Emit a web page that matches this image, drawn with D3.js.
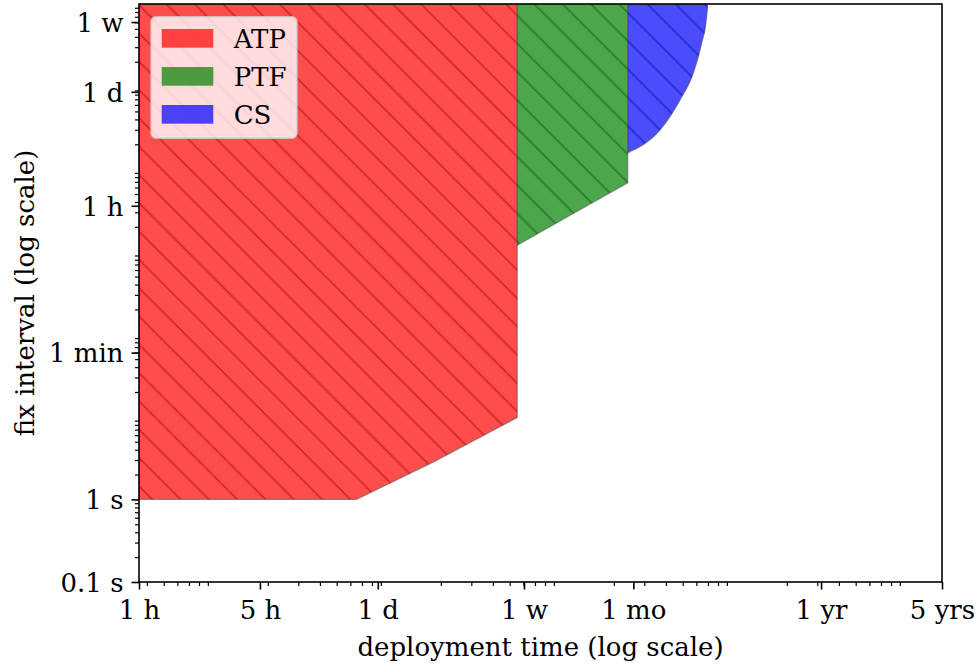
<!DOCTYPE html>
<html>
<head>
<meta charset="utf-8">
<script src="https://cdn.jsdelivr.net/npm/d3@7"></script>
<style>
  body { margin: 0; background: #fff; }
  svg text { font-family: "DejaVu Serif", serif; fill: #000; }
</style>
</head>
<body>
<div id="chart"></div>
<script>
// all values in seconds: deployment time (x) and lowest fix interval (y)
const atpTime = [3600, 65000, 180900, 553000];
const atpFix = [1, 1, 2.83, 9.8];
const ptfTime = [553000, 1166000, 2406000];
const ptfFix = [1199, 2904, 6823];
const csTime = [2406000, 3697000, 4826000, 5758000, 6439000, 6882000, 6974000, 7000000];
const csFix = [15760, 29700, 68600, 144500, 333900, 701500, 972000, 1200000];
const bandTop = 2e6; // bands run off the top of the chart

const seriesNames = ['ATP', 'PTF', 'CS'];
const seriesColors = ['#ff0000', '#008000', '#0000ff'];

const xTickValues = [3600, 18000, 86400, 604800, 2592000, 31536000, 157680000];
const xTickLabels = ['1 h', '5 h', '1 d', '1 w', '1 mo', '1 yr', '5 yrs'];
const yTickValues = [0.1, 1, 60, 3600, 86400, 604800];
const yTickLabels = ['0.1 s', '1 s', '1 min', '1 h', '1 d', '1 w'];

const W = 978, H = 669;
const margin = { top: 4, right: 36, bottom: 87, left: 139 };
const width = W - margin.left - margin.right;
const height = H - margin.top - margin.bottom;
const fontSize = 26;

const svg = d3.select('#chart').append('svg')
  .attr('width', W)
  .attr('height', H);

const x = d3.scaleLog().domain([3600, 157680000]).range([0, width]);
const y = d3.scaleLog().domain([0.1, 1e6]).range([height, 0]);

// log minor ticks at 2..9 x 10^k
function minorTicks(scale) {
  const [a, b] = scale.domain();
  const out = [];
  for (let k = Math.floor(Math.log10(a)); k <= Math.ceil(Math.log10(b)); k++) {
    for (let m = 2; m <= 9; m++) {
      const v = m * Math.pow(10, k);
      if (v >= a && v <= b) out.push(v);
    }
  }
  return out;
}

// hatch patterns ("\\" lines), darker shade of each band colour
const defs = svg.append('defs');
const hs = 28.3;
seriesNames.forEach((name, i) => {
  const p = defs.append('pattern')
    .attr('id', 'hatch-' + i)
    .attr('patternUnits', 'userSpaceOnUse')
    .attr('x', 0).attr('y', 1)
    .attr('width', hs).attr('height', hs);
  p.append('path')
    .attr('d', `M0,0L${hs},${hs}M${hs - 2},-2L${hs + 2},2M-2,${hs - 2}L2,${hs + 2}`)
    .attr('stroke', d3.color(seriesColors[i]).darker(1.6))
    .attr('stroke-opacity', 0.45)
    .attr('stroke-width', 1.7);
});

defs.append('clipPath').attr('id', 'plot-clip')
  .append('rect').attr('width', width).attr('height', height);

const g = svg.append('g')
  .attr('transform', `translate(${margin.left},${margin.top})`);

const bands = [
  atpTime.map((t, i) => ({ t, f: atpFix[i] })),
  ptfTime.map((t, i) => ({ t, f: ptfFix[i] })),
  csTime.map((t, i) => ({ t, f: csFix[i] }))
];

const area = d3.area()
  .x(d => x(d.t))
  .y0(() => y(bandTop))
  .y1(d => y(d.f));

const plot = g.append('g').attr('clip-path', 'url(#plot-clip)');

bands.forEach((data, i) => {
  const a = area.curve(i === 2 ? d3.curveMonotoneX : d3.curveLinear);
  plot.append('path')
    .datum(data)
    .attr('d', a)
    .attr('fill', seriesColors[i])
    .attr('fill-opacity', 0.7)
    .attr('stroke', '#555')
    .attr('stroke-opacity', 0.55)
    .attr('stroke-width', 1.2);
  plot.append('path')
    .datum(data)
    .attr('d', a)
    .attr('fill', `url(#hatch-${i})`);
});

// axes
const xAxis = g.append('g')
  .attr('transform', `translate(0,${height})`)
  .call(d3.axisBottom(x).tickValues(xTickValues)
    .tickFormat((d, i) => xTickLabels[i]).tickSize(7.5).tickPadding(8));
const xMinor = g.append('g')
  .attr('transform', `translate(0,${height})`)
  .call(d3.axisBottom(x).tickValues(minorTicks(x)).tickFormat('').tickSize(4));

const yAxis = g.append('g')
  .call(d3.axisLeft(y).tickValues(yTickValues)
    .tickFormat((d, i) => yTickLabels[i]).tickSize(7.5).tickPadding(8));
const yMinor = g.append('g')
  .call(d3.axisLeft(y).tickValues(minorTicks(y)).tickFormat('').tickSize(4));

[xAxis, xMinor, yAxis, yMinor].forEach(ax => {
  ax.select('.domain').remove();
  ax.selectAll('line').attr('stroke', '#000');
  ax.selectAll('text')
    .attr('font-size', fontSize)
    .attr('font-family', '"DejaVu Serif", serif');
});
xAxis.selectAll('line').attr('stroke-width', 1.6);
yAxis.selectAll('line').attr('stroke-width', 1.6);
xMinor.selectAll('line').attr('stroke-width', 1.2);
yMinor.selectAll('line').attr('stroke-width', 1.2);
xAxis.selectAll('text').attr('dy', '0.84em');
yAxis.selectAll('text').attr('dy', '0.36em');

// frame
g.append('rect')
  .attr('width', width)
  .attr('height', height)
  .attr('fill', 'none')
  .attr('stroke', '#000')
  .attr('stroke-width', 1.6);

// axis labels
svg.append('text')
  .attr('x', margin.left + width / 2)
  .attr('y', 656)
  .attr('text-anchor', 'middle')
  .attr('font-size', fontSize)
  .text('deployment time (log scale)');

svg.append('text')
  .attr('transform', `translate(34,${margin.top + height / 2}) rotate(-90)`)
  .attr('text-anchor', 'middle')
  .attr('font-size', fontSize)
  .text('fix interval (log scale)');

// legend
const legend = g.append('g').attr('transform', 'translate(12,12.7)');
legend.append('rect')
  .attr('width', 146)
  .attr('height', 121.6)
  .attr('rx', 5).attr('ry', 5)
  .attr('fill', '#fff')
  .attr('fill-opacity', 0.8)
  .attr('stroke', '#ccc')
  .attr('stroke-opacity', 0.8)
  .attr('stroke-width', 1.5);

seriesNames.forEach((name, i) => {
  const row = legend.append('g').attr('transform', `translate(10.7,${12.3 + i * 38})`);
  row.append('rect')
    .attr('width', 51.6)
    .attr('height', 18.7)
    .attr('fill', seriesColors[i])
    .attr('fill-opacity', 0.7);
  row.append('text')
    .attr('x', 72)
    .attr('y', 18.7)
    .attr('font-size', fontSize)
    .text(name);
});
</script>
</body>
</html>
